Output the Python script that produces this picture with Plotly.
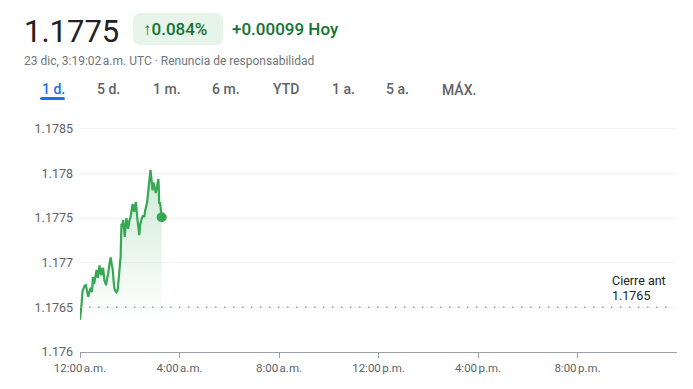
import pandas as pd
import plotly.graph_objects as go

# ---------------- data ----------------
minutes = [0, 2, 4, 6, 8, 11, 14, 17, 20, 23, 26, 29, 31, 34, 36, 38, 40, 43, 47, 50,
           52, 54, 56, 59, 63, 66, 68, 71, 74, 77, 79, 81, 83, 86, 88, 91, 95, 97, 98, 100,
           102, 104, 106, 108, 110, 112, 114, 116, 119, 122, 125, 127, 129, 131, 133, 135, 138, 140, 143, 145,
           147, 149, 152, 155, 157, 160, 162, 165, 167, 169, 170, 172, 175, 177, 179, 181, 183, 186, 189, 190,
           191, 193, 195, 197]
prices = [1.17636, 1.17643, 1.17655, 1.17668, 1.17671, 1.17674, 1.17675, 1.17668, 1.17662, 1.17668,
          1.17672, 1.17667, 1.17684, 1.17676, 1.17681, 1.17689, 1.17692, 1.17683, 1.17697, 1.17688,
          1.17686, 1.17694, 1.17693, 1.17680, 1.17675, 1.17684, 1.17688, 1.17698, 1.17706, 1.17697,
          1.17692, 1.17680, 1.17671, 1.17668, 1.17667, 1.17670, 1.17692, 1.17700, 1.17707, 1.17744,
          1.17740, 1.17748, 1.17736, 1.17729, 1.17742, 1.17750, 1.17744, 1.17738, 1.17747, 1.17751,
          1.17760, 1.17766, 1.17760, 1.17757, 1.17764, 1.17768, 1.17751, 1.17740, 1.17731, 1.17742,
          1.17748, 1.17750, 1.17753, 1.17751, 1.17758, 1.17764, 1.17768, 1.17782, 1.17792, 1.17800,
          1.17804, 1.17795, 1.17781, 1.17790, 1.17787, 1.17782, 1.17778, 1.17785, 1.17794, 1.17785,
          1.17766, 1.17768, 1.17760, 1.17751]
prev_close = 1.1765
fill_base = 1.17635

day = "2025-12-23"
y_tickvals = [1.176, 1.1765, 1.177, 1.1775, 1.178, 1.1785]
y_ticktext = ["1.176", "1.1765", "1.177", "1.1775", "1.178", "1.1785"]
x_tick_hours = [0, 4, 8, 12, 16, 20]
x_ticktext = ["12:00\u202fa.m.", "4:00\u202fa.m.", "8:00\u202fa.m.", "12:00\u202fp.m.", "4:00\u202fp.m.", "8:00\u202fp.m."]

price_text = "1.1775"
pct_text = "\u21910.084%"
chg_text = "+0.00099 Hoy"
sub_text = "23 dic, 3:19:02\u202fa.m. UTC · Renuncia de responsabilidad"
tabs = ["1 d.", "5 d.", "1 m.", "6 m.", "YTD", "1 a.", "5 a.", "MÁX."]
tab_x = [41, 96, 152, 211, 272, 331, 385, 441]
close_label = "Cierre ant"

# ---------------- layout helpers (page coords of the reference) ----------------
OFF = 8                      # browser body margin
RL, RR, RT, RB = 80, 677, 111, 352
W, H = 693 - OFF, 389 - OFF
ML, MT = RL - OFF, RT - OFF
MR, MB = W - (RR - OFF), H - (RB - OFF)
PW, PH = RR - RL, RB - RT


def pxx(x):
    return (x - RL) / PW


def pxy(y):
    return (RB - y) / PH


t0 = pd.Timestamp(day)
times = [t0 + pd.Timedelta(minutes=m) for m in minutes]
x_tickvals = [t0 + pd.Timedelta(hours=h) for h in x_tick_hours]

GREEN = "#34a853"
FONT = "Roboto"

fig = go.Figure()
fig.add_trace(go.Scatter(x=[times[0], times[-1]], y=[fill_base, fill_base], mode="lines",
                         line=dict(width=0, color="rgba(0,0,0,0)"), hoverinfo="skip", showlegend=False))
fig.add_trace(go.Scatter(x=times, y=prices, mode="lines", line=dict(color=GREEN, width=2.2),
                         fill="tonexty",
                         fillgradient=dict(type="vertical",
                                           colorscale=[[0, "rgba(52,168,83,0.0)"], [1, "rgba(52,168,83,0.24)"]],
                                           start=fill_base, stop=max(prices)),
                         showlegend=False))
fig.add_trace(go.Scatter(x=[times[-1]], y=[prices[-1]], mode="markers",
                         marker=dict(color=GREEN, size=10), showlegend=False))

shapes = []
shapes.append(dict(type="line", xref="paper", yref="y", x0=0, x1=pxx(673), y0=prev_close, y1=prev_close,
                   line=dict(color="#9aa0a6", width=1.5, dash="1.5px,7.5px")))


def rounded(x0, y0, x1, y1, r, color):
    rx = r / PW
    ry = r / PH
    X0, X1 = pxx(x0), pxx(x1)
    Yt, Yb = pxy(y0), pxy(y1)
    p = (f"M {X0+rx},{Yt} L {X1-rx},{Yt} Q {X1},{Yt} {X1},{Yt-ry} L {X1},{Yb+ry} "
         f"Q {X1},{Yb} {X1-rx},{Yb} L {X0+rx},{Yb} Q {X0},{Yb} {X0},{Yb+ry} L {X0},{Yt-ry} "
         f"Q {X0},{Yt} {X0+rx},{Yt} Z")
    return dict(type="path", xref="paper", yref="paper", path=p, fillcolor=color, line=dict(width=0), layer="below")


shapes.append(rounded(133, 13, 223, 45, 8, "#e6f4ea"))
shapes.append(rounded(40, 97, 65, 100, 1.5, "#1a73e8"))

ann = []


def text(x, y, s, size, color, anchor="left", weight=400):
    ann.append(dict(xref="paper", yref="paper", x=pxx(x), y=pxy(y), text=s, showarrow=False,
                    xanchor=anchor, yanchor="middle",
                    font=dict(family=FONT, size=size, color=color, weight=weight)))


text(22, 31, price_text, 31, "#202124")
text(141, 29, pct_text, 17, "#137333", weight=500)
text(230, 29, chg_text, 17, "#137333", weight=500)
text(22, 61, sub_text, 12, "#70757a")
for i, (t, x) in enumerate(zip(tabs, tab_x)):
    text(x - 1, 89, t, 14, "#1a73e8" if i == 0 else "#5f6368", weight=500)
text(610, 280, close_label, 12.5, "#202124")
text(610, 295, f"{prev_close}", 12.5, "#202124")

fig.update_layout(
    width=W, height=H, autosize=False,
    margin=dict(l=ML, r=MR, t=MT, b=MB),
    paper_bgcolor="white", plot_bgcolor="white",
    font=dict(family=FONT, color="#5f6368"),
    shapes=shapes, annotations=ann,
    hovermode=False,
    xaxis=dict(type="date", range=[t0, t0 + pd.Timedelta(hours=24)], tickvals=x_tickvals, ticktext=x_ticktext,
               showgrid=False, zeroline=False, showline=True, linecolor="#9aa0a6", linewidth=1,
               ticks="outside", ticklen=5, tickcolor="#9aa0a6", tickfont=dict(size=11.5, color="#5f6368")),
    yaxis=dict(range=[1.176, 1.1787], tickvals=y_tickvals, ticktext=y_ticktext, showgrid=True,
               gridcolor="#f1f3f4", gridwidth=1, zeroline=False, showline=False, ticks="",
               ticklabelstandoff=6, tickfont=dict(size=12.5, color="#5f6368")),
)

fig.write_html("out.html")
